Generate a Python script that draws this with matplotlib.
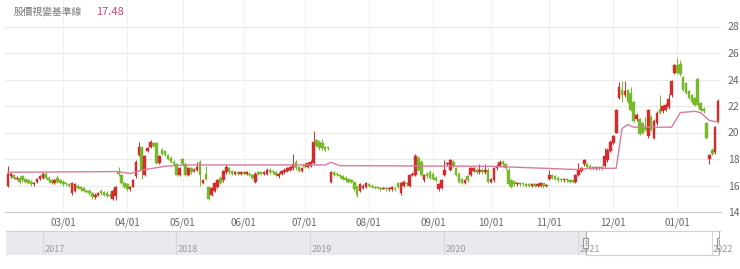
import matplotlib
matplotlib.use('Agg')
import matplotlib.pyplot as plt
import matplotlib.dates as mdates
from matplotlib.patches import Rectangle
import numpy as np
import pandas as pd

plt.rcParams['font.family'] = ['Noto Sans CJK TC', 'DejaVu Sans']

# trading calendar (TWSE holidays in the window)
holidays = ['2021-02-08', '2021-02-09', '2021-02-10', '2021-02-11', '2021-02-12',
            '2021-02-15', '2021-02-16', '2021-03-01', '2021-04-02', '2021-04-05',
            '2021-04-30', '2021-06-14', '2021-09-20', '2021-09-21', '2021-10-11',
            '2021-12-31']
dates = pd.bdate_range('2021-01-22', '2022-01-21', freq='C', holidays=holidays)

# candles: (open, close, high, low)
c_jan21 = [(16.0, 16.9, 17.5, 15.9), (16.7, 16.9, 17.0, 16.6), (16.8, 16.6, 16.9, 16.5),
           (16.5, 16.6, 16.7, 16.4), (16.6, 16.3, 16.7, 16.1), (16.7, 16.4, 16.8, 16.3)]
c_feb = [(16.5, 16.3, 16.6, 16.2), (16.4, 16.2, 16.5, 16.1), (16.3, 16.1, 16.4, 16.0),
         (16.1, 16.2, 16.3, 16.0), (16.3, 16.5, 16.6, 16.2), (16.5, 16.7, 16.8, 16.4),
         (16.6, 16.9, 17.0, 16.5), (16.9, 16.6, 17.0, 16.5), (16.6, 16.4, 16.7, 16.3),
         (16.4, 16.2, 16.5, 16.1), (16.2, 16.4, 16.5, 16.1), (16.6, 16.3, 16.8, 16.2),
         (16.4, 16.2, 16.5, 16.1)]
c_mar = [(16.3, 16.1, 16.4, 16.0), (16.2, 16.1, 16.3, 16.0), (16.1, 16.0, 16.2, 15.9),
         (15.4, 16.2, 16.3, 15.3), (15.6, 16.1, 16.2, 15.5), (16.0, 15.8, 16.1, 15.7),
         (15.9, 15.7, 16.0, 15.6), (15.8, 15.6, 15.9, 15.5), (15.6, 15.5, 15.7, 15.4),
         (15.6, 15.4, 15.7, 15.3), (15.4, 15.1, 15.5, 15.0), (15.1, 15.3, 15.4, 15.0),
         (15.3, 15.4, 15.5, 15.2), (15.6, 15.4, 15.7, 15.3), (15.5, 15.3, 15.6, 15.2),
         (15.4, 15.2, 15.6, 15.1), (15.3, 15.2, 15.4, 15.1), (15.0, 15.6, 15.7, 14.9),
         (15.2, 15.9, 16.0, 14.9), (17.0, 16.9, 17.4, 16.7), (16.8, 16.2, 16.9, 16.1),
         (16.2, 15.9, 16.3, 15.8)]
c_apr = [(16.1, 15.7, 16.2, 15.6), (15.7, 15.9, 16.0, 15.6), (15.9, 16.4, 16.5, 15.9),
         (16.7, 17.8, 17.9, 16.6), (18.3, 18.9, 19.3, 18.2), (18.9, 17.2, 19.0, 16.5),
         (16.8, 18.2, 18.3, 16.7), (18.6, 18.8, 18.9, 18.5), (18.9, 19.3, 19.4, 18.8),
         (19.2, 19.0, 19.3, 18.9), (19.2, 17.7, 19.3, 17.6), (17.7, 18.2, 18.3, 17.6),
         (18.7, 18.4, 18.8, 18.3), (18.6, 18.3, 18.7, 18.2), (18.3, 18.0, 18.4, 17.9),
         (18.1, 17.8, 18.2, 17.7), (17.8, 17.6, 17.9, 17.5), (17.6, 16.8, 17.7, 16.7),
         (16.8, 17.3, 17.4, 16.7)]
c_may = [(18.0, 17.6, 18.1, 17.5), (17.6, 16.8, 17.7, 16.7), (16.8, 17.3, 17.4, 16.7),
         (17.3, 17.0, 17.4, 16.9), (17.1, 17.2, 17.3, 17.0), (17.2, 17.4, 17.8, 17.1),
         (17.8, 16.8, 17.9, 16.0), (16.2, 16.4, 16.5, 16.1), (16.9, 16.5, 17.5, 16.4),
         (15.9, 15.0, 16.0, 14.9), (15.3, 15.8, 15.9, 15.2), (15.6, 16.2, 16.3, 15.5),
         (15.9, 16.4, 16.5, 15.8), (16.6, 16.2, 16.7, 16.1), (16.4, 17.1, 17.2, 16.3),
         (17.0, 17.4, 17.6, 16.9), (17.3, 17.0, 17.4, 16.9), (17.1, 16.9, 17.2, 16.8),
         (16.9, 17.0, 17.1, 16.8), (17.0, 16.9, 17.1, 16.8), (16.9, 17.0, 17.1, 16.8)]
c_jun = [(17.0, 16.9, 17.1, 16.8), (16.9, 17.0, 17.1, 16.8), (16.9, 16.8, 17.0, 16.7),
         (16.8, 16.6, 16.9, 16.5), (16.3, 16.9, 17.0, 16.2), (17.0, 16.9, 17.1, 16.8),
         (17.0, 16.9, 17.0, 16.8), (16.9, 17.0, 17.1, 16.8), (16.9, 17.2, 17.3, 16.8),
         (17.2, 17.0, 17.3, 16.9), (17.1, 17.0, 17.2, 16.9), (17.0, 16.8, 17.1, 16.7),
         (16.7, 16.9, 17.0, 16.6), (16.9, 17.1, 17.2, 16.8), (17.0, 17.2, 17.3, 16.9),
         (17.1, 17.3, 17.4, 17.0), (17.2, 17.4, 17.5, 17.1), (17.3, 17.6, 18.4, 17.2),
         (17.8, 17.3, 17.9, 17.2), (17.4, 17.1, 17.5, 17.0), (17.1, 17.3, 17.4, 17.0)]
c_jul = [(17.6, 17.4, 17.7, 17.3), (17.4, 17.7, 17.8, 17.3), (17.5, 17.8, 17.9, 17.4),
         (17.7, 19.3, 20.1, 17.6), (19.4, 19.0, 19.5, 18.9), (19.3, 18.8, 19.4, 18.7),
         (19.2, 18.8, 19.5, 18.7), (18.9, 18.7, 19.0, 18.6), (18.9, 18.8, 18.9, 18.7),
         (16.3, 17.0, 17.1, 16.2), (17.0, 16.8, 17.1, 16.7), (16.9, 16.8, 17.0, 16.7),
         (16.8, 16.7, 16.9, 16.6), (16.7, 16.5, 16.8, 16.4), (16.6, 16.4, 16.7, 16.3),
         (16.5, 16.3, 16.6, 16.2), (16.4, 16.3, 16.5, 16.2), (16.3, 15.7, 16.3, 15.6),
         (16.0, 15.3, 16.0, 15.1), (15.6, 16.1, 16.2, 15.5), (15.8, 16.0, 16.1, 15.7),
         (15.9, 16.2, 16.3, 15.8)]
c_aug = [(16.1, 16.0, 16.2, 15.9), (16.0, 15.9, 16.1, 15.8), (15.9, 15.8, 16.0, 15.7),
         (15.9, 15.8, 15.9, 15.7), (15.8, 15.7, 15.9, 15.6), (15.75, 15.8, 15.9, 15.7),
         (15.8, 15.7, 15.9, 15.6), (15.7, 15.8, 15.9, 15.6), (15.7, 15.9, 16.0, 15.6),
         (15.8, 15.7, 15.9, 15.6), (16.2, 15.9, 16.3, 15.8), (15.4, 16.2, 16.3, 15.3),
         (16.0, 16.3, 16.4, 15.9), (16.2, 16.1, 16.3, 16.0), (16.0, 16.8, 16.9, 15.9),
         (16.8, 16.9, 17.0, 16.7), (16.8, 18.2, 18.4, 16.7), (18.1, 17.2, 18.2, 17.1),
         (17.8, 16.8, 17.9, 16.7), (16.4, 16.8, 16.9, 16.3), (16.9, 16.7, 17.0, 16.6),
         (17.0, 16.6, 17.2, 16.5)]
c_sep = [(16.9, 16.5, 17.0, 16.4), (16.6, 16.4, 16.7, 16.3), (15.7, 16.1, 16.2, 15.6),
         (15.8, 16.4, 16.5, 15.7), (16.8, 17.2, 17.9, 16.7), (17.6, 17.7, 17.8, 17.5),
         (17.2, 17.9, 18.0, 17.1), (17.8, 17.5, 17.9, 17.4), (17.3, 16.8, 17.4, 16.7),
         (16.9, 16.3, 17.0, 16.2), (16.5, 16.2, 16.6, 16.1), (16.2, 16.4, 16.5, 16.1),
         (16.7, 16.4, 16.8, 16.3), (16.8, 17.3, 17.4, 16.7), (17.1, 17.3, 17.4, 17.0),
         (17.2, 17.0, 17.3, 16.9), (17.0, 17.2, 17.6, 16.9), (17.2, 17.0, 17.3, 16.9),
         (17.0, 17.2, 17.6, 16.9), (17.2, 16.3, 17.3, 16.2)]
c_oct = [(16.3, 16.5, 16.6, 16.2), (16.4, 17.3, 17.4, 16.3), (17.3, 17.5, 17.6, 17.2),
         (17.5, 17.8, 17.9, 17.4), (17.8, 17.6, 17.9, 17.5), (17.6, 17.3, 17.7, 17.2),
         (17.2, 16.1, 17.3, 16.0), (16.4, 15.9, 16.5, 15.8), (16.3, 16.1, 16.4, 16.0),
         (16.1, 16.2, 16.3, 16.0), (16.2, 16.1, 16.3, 16.0), (16.2, 16.1, 16.2, 16.0),
         (16.1, 16.0, 16.2, 15.9), (16.1, 16.0, 16.2, 15.9), (16.0, 16.1, 16.2, 15.9),
         (16.1, 16.0, 16.2, 15.9), (16.0, 16.1, 16.2, 15.9), (16.0, 16.2, 16.3, 15.9),
         (16.2, 16.0, 16.2, 15.8), (16.0, 16.05, 16.1, 15.9)]
c_nov = [(16.5, 16.8, 17.2, 16.4), (16.8, 16.6, 16.9, 16.5), (16.7, 16.5, 16.8, 16.4),
         (16.6, 16.4, 16.7, 16.3), (16.5, 16.4, 16.6, 16.3), (16.4, 16.5, 16.6, 16.3),
         (16.5, 16.4, 16.6, 16.3), (16.4, 16.3, 16.5, 16.2), (16.4, 16.3, 16.4, 16.2),
         (16.3, 16.8, 16.9, 16.2), (16.8, 17.2, 17.7, 16.7), (17.1, 17.3, 17.4, 17.0),
         (17.6, 17.9, 18.0, 17.5), (17.6, 17.4, 17.7, 17.3), (17.5, 17.3, 17.6, 17.2),
         (17.4, 17.3, 17.5, 17.2), (17.3, 17.35, 17.4, 17.2), (17.4, 17.3, 17.5, 17.2),
         (17.4, 17.3, 17.5, 17.2), (17.5, 18.2, 18.8, 17.4), (17.9, 18.7, 18.8, 17.8),
         (18.6, 19.3, 19.4, 18.5)]
c_dec = [(19.2, 19.7, 19.8, 19.1), (20.0, 21.7, 21.8, 20.0), (22.6, 23.4, 23.8, 22.5),
         (23.2, 22.8, 23.9, 22.3), (22.8, 23.1, 23.9, 22.7), (23.2, 22.3, 23.3, 22.2),
         (23.0, 21.7, 23.4, 21.6), (22.3, 20.9, 22.4, 20.8), (21.0, 21.3, 21.5, 20.9),
         (21.0, 19.9, 21.1, 19.8), (20.7, 20.0, 20.8, 19.9), (20.4, 20.2, 21.2, 20.1),
         (19.7, 21.7, 21.8, 19.6), (21.2, 20.2, 21.3, 20.1), (19.6, 20.9, 21.0, 19.5),
         (20.7, 21.5, 21.6, 20.6), (21.8, 21.5, 22.8, 21.4), (21.6, 22.0, 22.1, 21.5),
         (21.7, 22.1, 22.2, 21.6), (21.9, 22.5, 22.9, 21.8), (22.8, 23.9, 24.0, 22.7),
         (24.5, 25.1, 25.2, 24.4)]
c_jan22 = [(25.1, 24.5, 25.6, 24.4), (25.2, 24.4, 25.5, 24.3), (24.2, 23.2, 24.3, 23.1),
           (23.7, 23.0, 23.8, 22.9), (23.1, 22.6, 23.2, 22.5), (22.8, 22.3, 22.9, 22.2),
           (22.6, 22.1, 22.7, 22.0), (24.0, 22.1, 24.1, 21.9), (22.2, 21.7, 22.3, 21.6),
           (21.8, 21.6, 21.9, 21.5), (20.7, 19.6, 20.8, 19.5), (18.0, 18.3, 18.4, 17.6),
           (18.7, 18.4, 18.8, 18.3), (18.5, 20.4, 20.5, 18.4), (20.8, 22.4, 22.5, 20.7)]

candles = (c_jan21 + c_feb + c_mar + c_apr + c_may + c_jun + c_jul + c_aug
           + c_sep + c_oct + c_nov + c_dec + c_jan22)
o, c, h, l = (np.array(v) for v in zip(*candles))

# baseline line, break points
base_dates = ['2021-01-22', '2021-03-29', '2021-04-06', '2021-04-13', '2021-04-22',
              '2021-05-04', '2021-07-12', '2021-07-14', '2021-07-19', '2021-10-01',
              '2021-11-15', '2021-11-19', '2021-12-02', '2021-12-06', '2021-12-08',
              '2021-12-10', '2021-12-29', '2022-01-04', '2022-01-11', '2022-01-13',
              '2022-01-18', '2022-01-21']
base_vals = [17.0, 17.05, 16.9, 17.2, 17.45, 17.55, 17.55, 17.75, 17.5, 17.45,
             17.2, 17.3, 17.3, 20.3, 20.6, 20.4, 20.4, 21.5, 21.6, 21.5, 20.9, 20.8]
legend_name = '股價視變基準線'
legend_value = '17.48'

tick_months = ['2021-03', '2021-04', '2021-05', '2021-06', '2021-07', '2021-08',
               '2021-09', '2021-10', '2021-11', '2021-12', '2022-01']
nav_years = [2017, 2018, 2019, 2020, 2021, 2022]

RED = '#d42c2c'
GREEN = '#78b82a'

fig = plt.figure(figsize=(7.4, 2.69), dpi=100)
ax = fig.add_axes([5 / 740, 1 - 212 / 269, 716 / 740, 212 / 269])

x = np.arange(len(dates))
up = c >= o
col = np.where(up, RED, GREEN)
ax.vlines(x, l, h, colors=col, lw=0.7, zorder=3)
body = np.maximum(np.abs(c - o), 0.07)
ax.bar(x, body, bottom=np.minimum(o, c), width=0.9, color=col, zorder=4,
       linewidth=0.3, edgecolor=col)

bx = dates.get_indexer(pd.to_datetime(base_dates))
ax.plot(bx, base_vals, color='#d67aa0', lw=1.0, zorder=5)

ms = pd.Series(np.arange(len(dates)), index=dates)
tick_pos = [ms[m].iloc[0] for m in tick_months]
tick_lab = [pd.Timestamp(m).strftime('%m/01') for m in tick_months]
ax.set_xticks(tick_pos)
ax.set_xticklabels(tick_lab)
ax.set_xlim(-1.0, 245.0)
ax.set_ylim(14, 30)
ax.set_yticks(range(14, 29, 2))
ax.yaxis.tick_right()
ax.tick_params(axis='y', length=0, pad=5, labelsize=7.5, labelcolor='#666666')
ax.tick_params(axis='x', length=0, pad=4, labelsize=7, labelcolor='#666666')
ax.grid(axis='y', color='#ebebeb', lw=0.8)
ax.grid(axis='x', color='#f2f2f2', lw=0.8)
ax.set_axisbelow(True)
for s in ['top', 'left', 'right']:
    ax.spines[s].set_visible(False)
ax.spines['bottom'].set_color('#cccccc')
ax.spines['bottom'].set_linewidth(0.8)

fig.text(14 / 740, 1 - 12 / 269, legend_name, fontsize=7, color='#777777', va='center')
fig.text(96 / 740, 1 - 12 / 269, legend_value, fontsize=8, color='#c8457e', va='center')

# navigator
nav = fig.add_axes([6 / 740, 1 - 255 / 269, 714 / 740, 24 / 269])
n0 = mdates.date2num(pd.Timestamp('2016-09-23'))
n1 = mdates.date2num(pd.Timestamp('2022-01-24'))
d0 = mdates.date2num(dates[0])
d1 = mdates.date2num(dates[-1])
nav.set_xlim(n0, n1)
nav.set_ylim(0, 1)
nav.axvspan(n0, d0, color='#e8eaed', lw=0)
for yr in nav_years:
    yd = mdates.date2num(pd.Timestamp(f'{yr}-01-01'))
    nav.axvline(yd, color='#d4d6d8', lw=0.8)
    nav.text(yd + 4, 0.25, str(yr), fontsize=6.5, color='#999999', va='center')
nav.plot([n0, n1], [1, 1], color='#cfd1d3', lw=0.8, clip_on=False)
nav.plot([d0, d1], [0, 0], color='#cfd1d3', lw=0.8, clip_on=False)
for d in (d0, d1):
    nav.axvline(d, color='#b0b0b0', lw=0.8)
    nav.add_patch(Rectangle((d - 6, 0.3), 12, 0.42, facecolor='#f2f2f2',
                            edgecolor='#999999', lw=0.8, zorder=5))
    nav.plot([d, d], [0.4, 0.62], color='#999999', lw=0.6, zorder=6)
nav.set_xticks([])
nav.set_yticks([])
for s in nav.spines.values():
    s.set_visible(False)

fig.savefig('out.png', dpi=100)
